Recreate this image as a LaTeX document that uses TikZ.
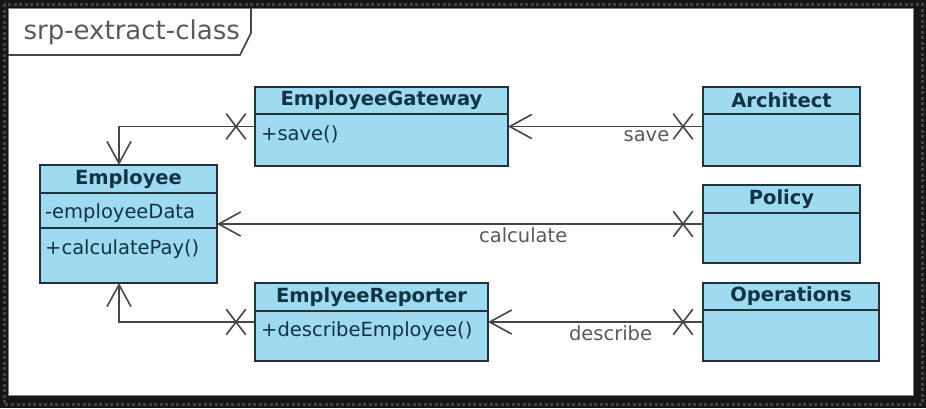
\documentclass[tikz,border=0pt]{standalone}
\usepackage{fontspec}
\setmainfont{DejaVu Sans}
\usetikzlibrary{arrows.meta, calc, shapes.misc}
\definecolor{classfill}{RGB}{158,219,241}
\definecolor{classline}{RGB}{36,50,60}
\definecolor{classtext}{RGB}{18,50,70}
\definecolor{linkgray}{RGB}{70,70,70}
\definecolor{labelgray}{RGB}{90,90,90}
\definecolor{bgdark}{RGB}{22,22,22}
\definecolor{bgdots}{RGB}{68,68,68}
\tikzset{x=1pt, y=-1pt,
    assoc/.style={-{Straight Barb[length=22pt,width=24pt]}, draw=linkgray, line width=1.6pt},
    classbody/.style={draw=classline, fill=classfill, line width=1.8pt, anchor=north west, inner sep=0pt, outer sep=0pt},
    classhead/.style={draw=classline, fill=classfill, line width=1.8pt, anchor=north, inner sep=0pt, outer sep=0pt,
        font=\bfseries\fontsize{19.5}{22}\selectfont, text=classtext},
    member/.style={anchor=north west, inner sep=0pt, font=\fontsize{19.5}{22}\selectfont, text=classtext},
    xmark/.style={cross out, draw=linkgray, line width=1.6pt, minimum width=18pt, minimum height=24pt, inner sep=0pt},
    linklabel/.style={font=\fontsize{19.5}{22}\selectfont, text=labelgray, inner sep=3pt},
    tabline/.style={draw=linkgray, line width=1.6pt},
    textnode/.style={}}
\begin{document}
\begin{tikzpicture}
\useasboundingbox (0,0) rectangle (926,408);
\fill[bgdark] (0,0) rectangle (926,408);
\draw[bgdots, line width=3pt, dash pattern=on 3pt off 2.5pt] (4,4) rectangle (922,404);
\filldraw[fill=white, draw=gray, line width=1pt] (8,8) rectangle (913,395);

% frame tab
\draw[tabline] (8,55) -- (240,55) -- (251,33) -- (251,8);
\node[textnode, anchor=west, font=\fontsize{26}{30}\selectfont, text=labelgray] (title) at (20,32) {srp-extract-class};

% classes
\node[classbody, minimum width=177pt, minimum height=118pt] (emp) at (40,165) {};
\node[classhead, minimum width=177pt, minimum height=28pt] (emph) at (emp.north) {Employee};
\node[classbody, anchor=north, minimum width=177pt, minimum height=35pt] (empattr) at (emph.south) {};
\node[member] (empdata) at ($(empattr.north west)+(5,10)$) {-employeeData};
\node[member] (emppay) at ($(empattr.south west)+(5,11)$) {+calculatePay()};

\node[classbody, minimum width=253pt, minimum height=79pt] (gw) at (255,87) {};
\node[classhead, minimum width=253pt, minimum height=27pt] (gwh) at (gw.north) {EmployeeGateway};
\node[member] (gwsave) at ($(gwh.south west)+(6,11)$) {+save()};

\node[classbody, minimum width=233pt, minimum height=78pt] (rep) at (255,283) {};
\node[classhead, minimum width=233pt, minimum height=28pt] (reph) at (rep.north) {EmplyeeReporter};
\node[member] (repdesc) at ($(reph.south west)+(6,10)$) {+describeEmployee()};

\node[classbody, minimum width=157pt, minimum height=79pt] (arch) at (703,87) {};
\node[classhead, minimum width=157pt, minimum height=27pt] (archh) at (arch.north) {Architect};

\node[classbody, minimum width=157pt, minimum height=78pt] (pol) at (703,185) {};
\node[classhead, minimum width=157pt, minimum height=28pt] (polh) at (pol.north) {Policy};

\node[classbody, minimum width=176pt, minimum height=78pt] (ops) at (703,283) {};
\node[classhead, minimum width=176pt, minimum height=27pt] (opsh) at (ops.north) {Operations};

% associations
\coordinate (emptop) at ($(emp.north west)+(79,0)$);
\coordinate (empbot) at ($(emp.south west)+(79,0)$);
\draw[assoc] (gw.west) -| (emptop);
\draw[assoc] (rep.west) -| (empbot);
\path
    (arch.west) edge[assoc] node[linklabel, below, pos=0.29] {save} (gw.east)
    (pol.west)  edge[assoc] node[linklabel, below, pos=0.37] {calculate} (emp.east)
    (ops.west)  edge[assoc] node[linklabel, below, pos=0.43] {describe} (rep.east);

\node[xmark] (xgw)   at ($(gw.west)+(-19,0)$) {};
\node[xmark] (xrep)  at ($(rep.west)+(-19,0)$) {};
\node[xmark] (xarch) at ($(arch.west)+(-20,0)$) {};
\node[xmark] (xpol)  at ($(pol.west)+(-20,0)$) {};
\node[xmark] (xops)  at ($(ops.west)+(-20,0)$) {};
\end{tikzpicture}
\end{document}
